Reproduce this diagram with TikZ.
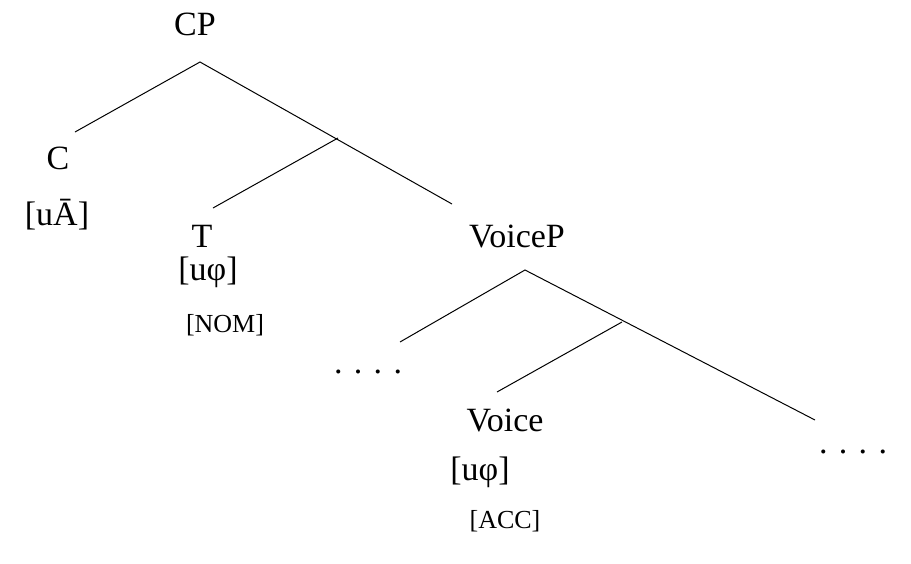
\documentclass[tikz,border=0pt]{standalone}
\usepackage{fontspec}
\setmainfont{Liberation Serif}
\begin{document}
\begin{tikzpicture}[x=1pt,y=-1pt,
  big/.style={font=\fontsize{34}{36}\selectfont,inner sep=0pt},
  small/.style={font=\fontsize{26}{28}\selectfont,inner sep=0pt},
  br/.style={line width=1pt}]
\useasboundingbox (0,0) rectangle (911,563);
\node[big] (cp) at (195,24) {CP};
\node[big] (c) at (58,158) {C};
\node[big] (cf) at (57,215) {[uĀ]};
\node[big] (t) at (202,236) {T};
\node[big] (tf) at (208,272) {[uφ]};
\node[small] (tc) at (225,325) {[NOM]};
\node[big] (vp) at (517,236) {VoiceP};
\node[big] (d1) at (368,372) {. . . .};
\node[big] (v) at (505,420) {Voice};
\node[big] (vf) at (480,472) {[uφ]};
\node[small] (vc) at (505,521) {[ACC]};
\node[big] (d2) at (853,452) {. . . .};
\coordinate (a1) at (200,62);
\coordinate (c1) at (75,132);
\coordinate (b1) at (338,138);
\coordinate (t1) at (213,208);
\coordinate (vp1) at (452,204);
\coordinate (a2) at (525,270);
\coordinate (d1e) at (400,342);
\coordinate (b2) at (622,322);
\coordinate (v1) at (497,392);
\coordinate (d2e) at (815,420);
\draw[br] (c1) -- (a1) -- (vp1);
\draw[br] (b1) -- (t1);
\draw[br] (d1e) -- (a2) -- (d2e);
\draw[br] (b2) -- (v1);
\end{tikzpicture}
\end{document}
